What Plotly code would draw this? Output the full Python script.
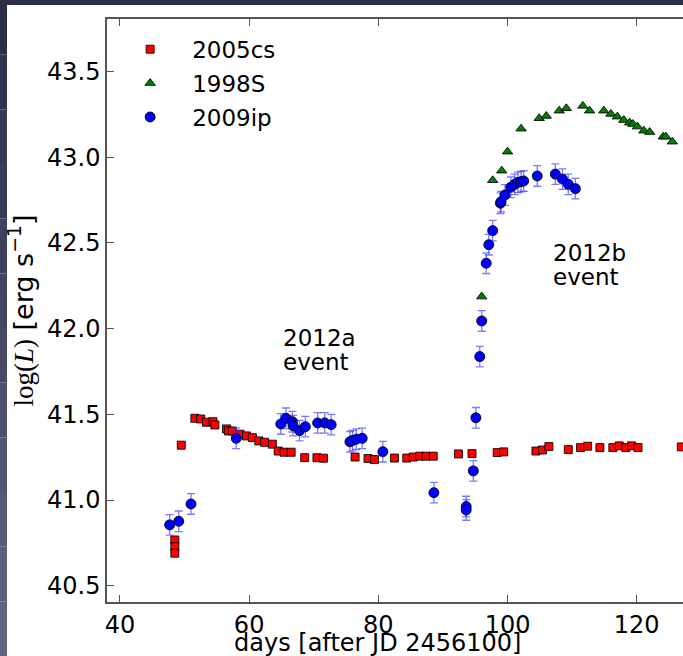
import plotly.graph_objects as go

# ---- data ----
sn2005cs_days = [48.5, 48.5, 48.5, 49.5, 51.6, 52.5, 53.4, 54.4, 54.7, 56.5, 56.8, 57.4, 58.6, 59.6,
                 60.5, 61.5, 62.4, 63.6, 64.5, 65.4, 66.5, 68.6, 70.5, 71.5, 76.4, 78.4, 79.4, 82.5,
                 84.4, 85.4, 86.4, 87.4, 88.5, 92.4, 94.5, 98.4, 99.4, 104.4, 105.4, 106.4, 109.4,
                 111.3, 112.4, 114.3, 116.3, 117.3, 118.3, 119.2, 120.2, 126.9]
sn2005cs_logL = [40.767, 40.728, 40.69, 41.32, 41.477, 41.473, 41.454, 41.457, 41.438, 41.415, 41.403,
                 41.403, 41.384, 41.374, 41.364, 41.345, 41.337, 41.326, 41.286, 41.279, 41.279, 41.247,
                 41.247, 41.244, 41.251, 41.242, 41.236, 41.245, 41.245, 41.251, 41.256, 41.256, 41.256,
                 41.269, 41.271, 41.277, 41.281, 41.286, 41.292, 41.312, 41.294, 41.306, 41.314, 41.306,
                 41.306, 41.316, 41.306, 41.316, 41.306, 41.31]

sn1998S_days = [96.0, 97.7, 99.1, 100.0, 102.1, 104.9, 106.0, 108.0, 109.1, 111.65, 112.7, 114.9,
                116.0, 117.0, 118.0, 118.9, 119.4, 120.1, 121.1, 122.0, 124.1, 124.5, 125.5]
sn1998S_logL = [42.187, 42.866, 42.922, 43.033, 43.167, 43.228, 43.241, 43.272, 43.286, 43.30, 43.272,
                43.272, 43.253, 43.237, 43.217, 43.202, 43.194, 43.179, 43.155, 43.147, 43.12, 43.12,
                43.091]

sn2009ip_days = [47.7, 49.1, 51.0, 58.0, 64.9, 65.7, 66.7, 66.8, 67.8, 68.7, 70.6, 71.7, 72.7, 75.6,
                 76.0, 76.6, 77.5, 80.7, 88.6, 93.6, 93.6, 94.7, 95.1, 95.7, 96.0, 96.7, 97.1, 97.7,
                 98.9, 99.0, 99.6, 100.5, 101.1, 101.6, 102.1, 102.5, 104.6, 107.4, 108.5, 109.4, 110.5]
sn2009ip_logL = [40.855, 40.876, 40.977, 41.36, 41.444, 41.477, 41.457, 41.434, 41.405, 41.428, 41.45,
                 41.45, 41.44, 41.34, 41.347, 41.355, 41.36, 41.282, 41.043, 40.962, 40.942, 41.17,
                 41.48, 41.837, 42.045, 42.382, 42.49, 42.572, 42.732, 42.741, 42.78, 42.825, 42.842,
                 42.854, 42.858, 42.862, 42.891, 42.902, 42.873, 42.842, 42.817]
sn2009ip_err = [0.06] * len(sn2009ip_days)

x_ticks = [40, 60, 80, 100, 120]
y_ticks = [40.5, 41.0, 41.5, 42.0, 42.5, 43.0, 43.5]
x_range = [38.0, 127.16]
y_range = [40.405, 43.807]

x_title = "days [after JD 2456100]"
y_title = "<span style='font-family:Liberation Serif'>log(<i>L</i>)</span> [erg s<sup>\u22121</sup>]"

# text labels: (x, y, text)
labels = [
    (64.9, 41.945, "2012a"),
    (64.9, 41.805, "event"),
    (106.65, 42.44, "2012b"),
    (106.65, 42.30, "event"),
]

FONT = "DejaVu Sans"
FS = 24

fig = go.Figure()

fig.add_trace(go.Scatter(
    x=sn2005cs_days, y=sn2005cs_logL, mode="markers", name="2005cs",
    marker=dict(symbol="square", size=8, color="#ff0000",
                line=dict(color="rgba(0,0,0,0.85)", width=1)),
    legendgroup="g1"))

fig.add_trace(go.Scatter(
    x=sn1998S_days, y=sn1998S_logL, mode="markers", name="1998S",
    marker=dict(symbol="triangle-up", size=9, color="#008000",
                line=dict(color="rgba(0,0,0,0.85)", width=1)),
    legendgroup="g2"))

fig.add_trace(go.Scatter(
    x=sn2009ip_days, y=sn2009ip_logL, mode="markers", name="2009ip",
    error_y=dict(type="data", array=sn2009ip_err, visible=True,
                 color="rgba(50,50,255,0.65)", thickness=1.3, width=4),
    marker=dict(symbol="circle", size=10, color="#0000ff",
                line=dict(color="rgba(0,0,0,0.85)", width=1)),
    legendgroup="g3"))

for lx, ly, lt in labels:
    fig.add_annotation(x=lx, y=ly, xref="x", yref="y", text=lt,
                       showarrow=False, xanchor="left", yanchor="middle", align="left",
                       font=dict(family=FONT, size=23, color="black"))

# dark frame (screenshot border) on top and left
W, H = 683, 656
ML, MR, MT, MB = 107, 0, 19, 54
pw, ph = W - ML - MR, H - MT - MB
def px2paper_x(p):
    return (p - ML) / pw
def px2paper_y(p):
    return 1 - (p - MT) / ph

# x-axis title as an annotation, placed low as in the reference
fig.add_annotation(x=px2paper_x(377), y=px2paper_y(643), xref="paper", yref="paper",
                   text=x_title, showarrow=False, xanchor="center", yanchor="middle",
                   font=dict(family=FONT, size=FS, color="black"))

shapes = []
shapes.append(dict(type="rect", xref="paper", yref="paper",
                   x0=px2paper_x(0), x1=px2paper_x(W), y0=px2paper_y(5), y1=px2paper_y(0),
                   fillcolor="#2c2f48", line=dict(width=0), layer="above"))
nsteps = 12
c0 = (44, 47, 72)
c1 = (96, 98, 130)
for i in range(nsteps):
    t = i / (nsteps - 1)
    col = "rgb(%d,%d,%d)" % tuple(int(c0[k] + (c1[k] - c0[k]) * t) for k in range(3))
    y0p = i * H / nsteps
    y1p = (i + 1) * H / nsteps
    shapes.append(dict(type="rect", xref="paper", yref="paper",
                       x0=px2paper_x(0), x1=px2paper_x(7), y0=px2paper_y(y1p), y1=px2paper_y(y0p),
                       fillcolor=col, line=dict(width=0), layer="above"))

fig.update_layout(
    width=W, height=H,
    margin=dict(l=ML, r=MR, t=MT, b=MB, autoexpand=False),
    paper_bgcolor="white", plot_bgcolor="white",
    shapes=shapes,
    showlegend=True,
    legend=dict(x=0.002, y=0.985, xanchor="left", yanchor="top",
                bgcolor="rgba(0,0,0,0)", borderwidth=0,
                font=dict(family=FONT, size=23, color="black"),
                tracegroupgap=1, itemwidth=74),
    xaxis=dict(range=x_range, tickvals=x_ticks, ticks="inside", ticklen=7, tickwidth=1,
               tickcolor="#555", showline=True, linecolor="#555", linewidth=1.5,
               mirror="ticks", showgrid=False, zeroline=False, automargin=False,
               tickfont=dict(family=FONT, size=FS, color="black")),
    yaxis=dict(range=y_range, tickvals=y_ticks, tickformat=".1f", ticks="inside", ticklen=7,
               tickwidth=1, tickcolor="#555", showline=True, linecolor="#555", linewidth=1.5,
               mirror=False, showgrid=False, zeroline=False, automargin=False,
               tickfont=dict(family=FONT, size=FS, color="black"),
               title=dict(text=y_title, standoff=6,
                          font=dict(family=FONT, size=27, color="black"))),
)

fig.write_html("out.html")
